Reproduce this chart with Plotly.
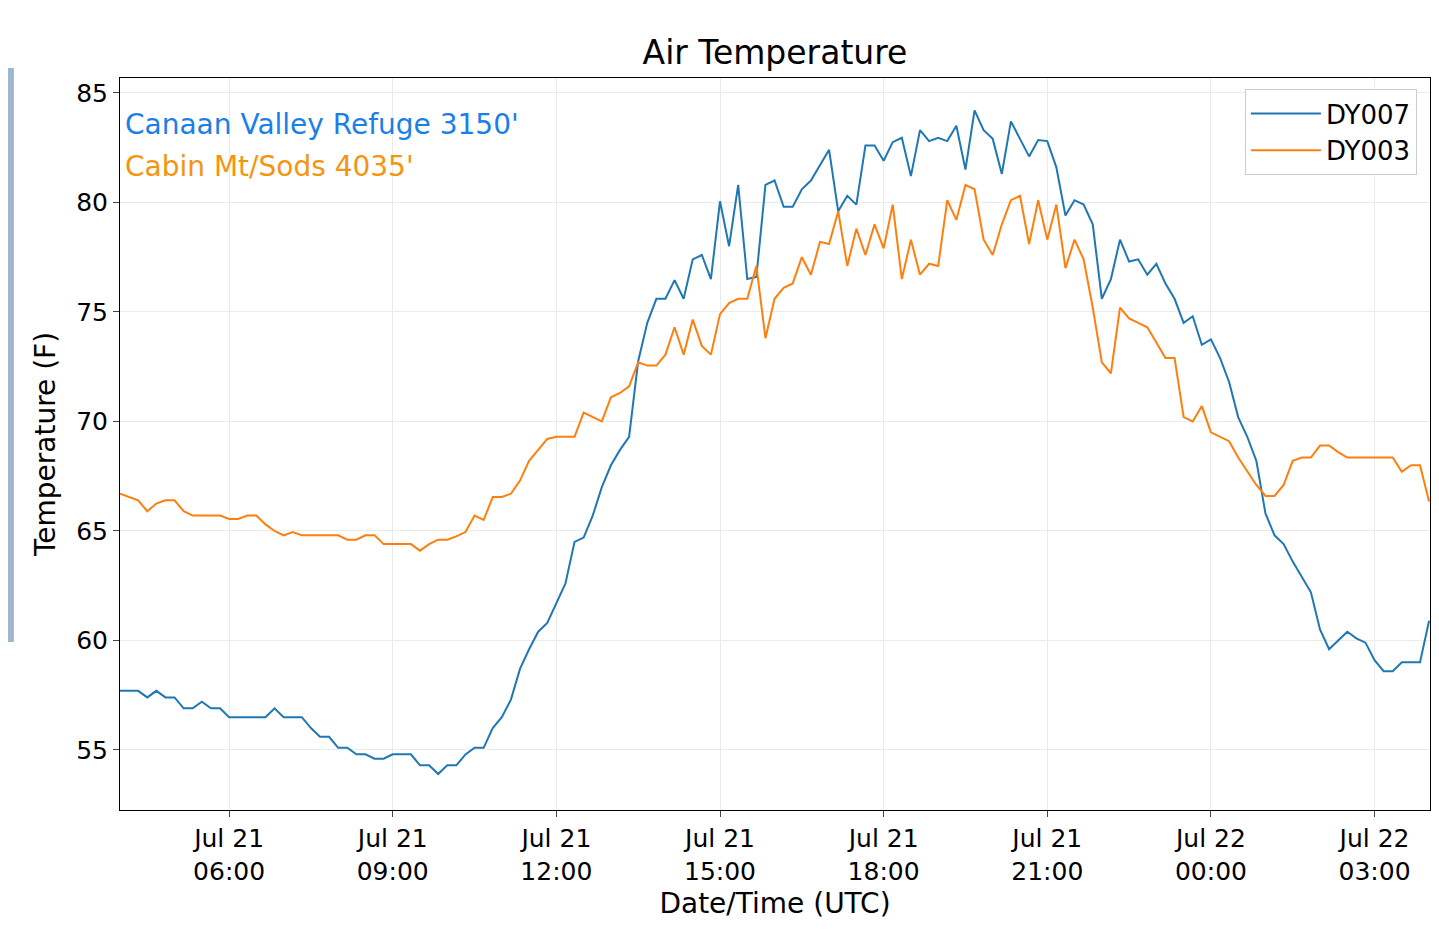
import plotly.graph_objects as go
import pandas as pd

times = pd.date_range("2019-07-21 04:00", periods=145, freq="10min")

dy007 = [57.7,57.7,57.7,57.4,57.7,57.4,57.4,56.9,56.9,57.2,56.9,56.9,56.5,56.5,56.5,56.5,56.5,56.9,56.5,56.5,
         56.5,56.0,55.6,55.6,55.1,55.1,54.8,54.8,54.6,54.6,54.8,54.8,54.8,54.3,54.3,53.9,54.3,54.3,54.8,55.1,
         55.1,56.0,56.5,57.3,58.7,59.6,60.4,60.8,61.7,62.6,64.5,64.7,65.7,67.0,68.0,68.7,69.3,72.75,74.5,75.6,
         75.6,76.45,75.6,77.4,77.6,76.5,80.05,78.0,80.8,76.5,76.6,80.8,81.0,79.8,79.8,80.6,81.0,81.7,82.4,79.6,
         80.3,79.9,82.6,82.6,81.9,82.75,82.95,81.2,83.3,82.8,82.95,82.8,83.5,81.5,84.2,83.3,82.9,81.3,83.7,82.9,
         82.1,82.85,82.8,81.6,79.4,80.1,79.9,79.0,75.6,76.5,78.3,77.3,77.4,76.7,77.2,76.3,75.6,74.5,74.8,73.5,
         73.75,72.9,71.8,70.2,69.3,68.2,65.8,64.8,64.4,63.6,62.9,62.2,60.5,59.6,60.0,60.4,60.1,59.9,59.1,58.6,
         58.6,59.0,59.0,59.0,60.9]
dy003 = [66.7,66.55,66.4,65.9,66.25,66.4,66.4,65.9,65.7,65.7,65.7,65.7,65.55,65.55,65.7,65.7,65.3,65.0,64.8,64.95,
         64.8,64.8,64.8,64.8,64.8,64.6,64.6,64.8,64.8,64.4,64.4,64.4,64.4,64.1,64.4,64.6,64.6,64.75,64.95,65.7,
         65.5,66.55,66.55,66.7,67.3,68.2,68.7,69.2,69.3,69.3,69.3,70.4,70.2,70.0,71.1,71.3,71.6,72.7,72.55,72.55,
         73.05,74.3,73.05,74.65,73.45,73.05,74.9,75.4,75.6,75.6,77.1,73.8,75.6,76.1,76.3,77.5,76.7,78.2,78.1,79.6,
         77.1,78.8,77.6,79.0,77.9,79.9,76.5,78.3,76.7,77.2,77.1,80.1,79.2,80.8,80.6,78.3,77.6,79.0,80.1,80.3,
         78.1,80.1,78.3,79.9,77.0,78.3,77.4,75.2,72.7,72.2,75.2,74.7,74.5,74.3,73.6,72.9,72.9,70.2,70.0,70.7,
         69.5,69.3,69.1,68.35,67.7,67.1,66.6,66.6,67.1,68.2,68.35,68.35,68.9,68.9,68.6,68.35,68.35,68.35,68.35,68.35,
         68.35,67.7,68.0,68.0,66.35]

tick_vals = pd.date_range("2019-07-21 06:00", periods=8, freq="3h")
tick_text = [t.strftime("%b %d").replace(" 0", " ") + "<br>" + t.strftime("%H:%M") for t in tick_vals]
y_ticks = [55, 60, 65, 70, 75, 80, 85]

fig = go.Figure()
fig.add_trace(go.Scatter(x=times, y=dy007, mode="lines", name="DY007", line=dict(color="#1f77b4", width=2)))
fig.add_trace(go.Scatter(x=times, y=dy003, mode="lines", name="DY003", line=dict(color="#ff7f0e", width=2)))

font = "DejaVu Sans, sans-serif"
fig.update_layout(
    width=1439, height=941, plot_bgcolor="white", paper_bgcolor="white",
    margin=dict(l=112, r=17, t=70, b=139),
    font=dict(family=font, size=25, color="black"),
    title=dict(text="Air Temperature", x=0.533, xanchor="center", y=0.953, yanchor="middle",
               font=dict(size=33, family=font)),
    legend=dict(x=0.99, y=0.985, xanchor="right", yanchor="top", bordercolor="#cccccc", borderwidth=1,
                bgcolor="white", font=dict(size=26, family=font), itemwidth=70),
    showlegend=True,
)
fig.update_xaxes(range=[pd.Timestamp("2019-07-21 04:00"), pd.Timestamp("2019-07-22 04:01")],
                 tickvals=tick_vals, ticktext=tick_text, ticks="outside", ticklen=6,
                 showgrid=True, gridcolor="#ebebeb", showline=True, linecolor="black", mirror=True,
                 title=dict(text="Date/Time (UTC)", font=dict(size=28), standoff=8), tickfont=dict(size=25))
fig.update_yaxes(range=[52.26, 85.68], tickvals=y_ticks, ticks="outside", ticklen=6,
                 showgrid=True, gridcolor="#ebebeb", showline=True, linecolor="black", mirror=True,
                 title=dict(text="Temperature (F)", font=dict(size=28), standoff=12), tickfont=dict(size=25))
fig.add_annotation(text="Canaan Valley Refuge 3150'", xref="paper", yref="paper", x=0.002, y=0.937,
                   xanchor="left", yanchor="middle", showarrow=False, font=dict(size=28, color="#1a80e8", family=font))
fig.add_annotation(text="Cabin Mt/Sods 4035'", xref="paper", yref="paper", x=0.002, y=0.879,
                   xanchor="left", yanchor="middle", showarrow=False, font=dict(size=28, color="#f5950f", family=font))
fig.add_shape(type="rect", xref="paper", yref="paper", x0=-0.1, x1=-0.081, y0=0.2295, y1=1.0137,
              fillcolor="#9fb6cf", line=dict(width=0), layer="below")
fig.write_html("out.html")
